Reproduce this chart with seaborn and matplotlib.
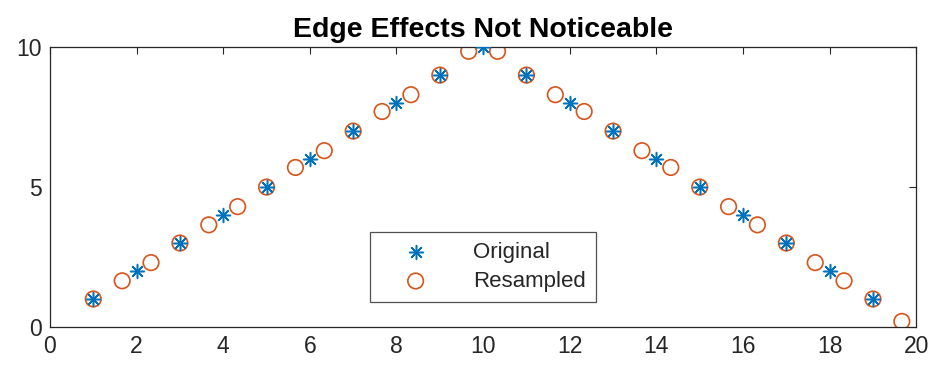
import matplotlib
matplotlib.use("Agg")
import matplotlib.pyplot as plt
import seaborn as sns

# original samples: triangle 1..10..1
orig_x = list(range(1, 20))
orig_y = [1, 2, 3, 4, 5, 6, 7, 8, 9, 10, 9, 8, 7, 6, 5, 4, 3, 2, 1]

# resampled at 3/2 the rate (step 2/3)
res_x = [1, 1.667, 2.333, 3, 3.667, 4.333, 5, 5.667, 6.333, 7, 7.667, 8.333, 9,
         9.667, 10.333, 11, 11.667, 12.333, 13, 13.667, 14.333, 15, 15.667,
         16.333, 17, 17.667, 18.333, 19, 19.667]
res_y = [1, 1.65, 2.3, 3, 3.65, 4.3, 5, 5.7, 6.3, 7, 7.7, 8.3, 9,
         9.85, 9.85, 9, 8.3, 7.7, 7, 6.3, 5.7, 5, 4.3, 3.65, 3, 2.3, 1.65, 1, 0.2]

sns.set_style("white")
plt.rcParams['font.family'] = ['Liberation Sans', 'DejaVu Sans']

fig = plt.figure(figsize=(9.34, 3.74), dpi=100)
ax = fig.add_axes([0.0535, 0.1257, 0.9275, 0.7483])

sns.scatterplot(x=orig_x, y=orig_y, ax=ax, marker=(8, 2, 0), s=100,
                color="#0072BD", linewidth=1.1, edgecolor="#0072BD",
                label="Original", zorder=3)
sns.scatterplot(x=res_x, y=res_y, ax=ax, marker="o", s=125,
                facecolor="none", edgecolor="#D95319", linewidth=1.2,
                label="Resampled", zorder=2)

ax.set_xlim(0, 20)
ax.set_ylim(0, 10)
ax.set_xticks(range(0, 21, 2))
ax.set_yticks([0, 5, 10])
ax.tick_params(direction="in", length=5, labelsize=16.5, colors="#262626",
               top=True, right=True, width=0.8, pad=6)
for sp in ax.spines.values():
    sp.set_color("#262626")
    sp.set_linewidth(0.9)
ax.set_title("Edge Effects Not Noticeable", fontsize=20.5, fontweight="bold",
             pad=7, color="black")

leg = ax.legend(loc="lower center", bbox_to_anchor=(0.5, 0.09), fontsize=16,
                frameon=True, fancybox=False, edgecolor="#262626",
                borderpad=0.45, handlelength=3.2, handletextpad=1.0,
                labelspacing=0.35, borderaxespad=0)
leg.get_frame().set_linewidth(0.9)

fig.savefig("out.png", dpi=100)
